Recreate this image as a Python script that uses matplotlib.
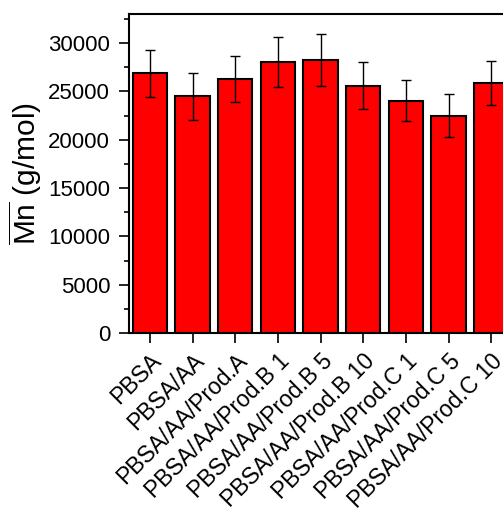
import matplotlib
matplotlib.use("Agg")
import matplotlib.pyplot as plt
from matplotlib.ticker import MultipleLocator
import numpy as np

samples = ["PBSA", "PBSA/AA", "PBSA/AA/Prod.A", "PBSA/AA/Prod.B 1",
           "PBSA/AA/Prod.B 5", "PBSA/AA/Prod.B 10", "PBSA/AA/Prod.C 1",
           "PBSA/AA/Prod.C 5", "PBSA/AA/Prod.C 10"]
mn_values = [26850, 24500, 26250, 28050, 28250, 25600, 24050, 22500, 25850]
mn_errors = [2400, 2420, 2380, 2580, 2690, 2420, 2150, 2190, 2280]

plt.rcParams['font.family'] = ['Liberation Sans', 'DejaVu Sans']
plt.rcParams['mathtext.fontset'] = 'custom'
plt.rcParams['mathtext.rm'] = 'Liberation Sans'
plt.rcParams['mathtext.it'] = 'Liberation Sans'

fig = plt.figure(figsize=(5.03, 5.08), dpi=100)
ax = fig.add_axes([0.2555, 0.3445, 0.7634, 0.6279])

x = np.arange(1, len(samples) + 1)
ax.bar(x, mn_values, width=0.8, color='#ff0000', edgecolor='black', linewidth=1.5, zorder=2)
ax.errorbar(x, mn_values, yerr=mn_errors, fmt='none', ecolor='black',
            elinewidth=1, capsize=3.6, capthick=1, zorder=3)

ax.set_xlim(0.5, 9.5)
ax.set_ylim(0, 33000)
ax.yaxis.set_major_locator(MultipleLocator(5000))
ax.yaxis.set_minor_locator(MultipleLocator(2500))
ax.set_xticks(x)
ax.set_xticklabels(samples, rotation=45, ha='right', rotation_mode='anchor', fontsize=16.5)

ax.tick_params(axis='y', which='major', direction='out', length=7.2, width=1.2,
               labelsize=16, pad=6, right=True)
ax.tick_params(axis='y', which='minor', direction='out', length=3.6, width=1.2, right=False)
ax.tick_params(axis='x', which='major', direction='out', length=7.2, width=1.2, pad=4.5)
# right-hand ticks point inwards (they poke in from the clipped spine)
for t in ax.yaxis.get_major_ticks():
    t.tick2line.set_marker(matplotlib.lines.TICKLEFT)
    t.tick2line.set_markersize(7.2)

for s in ax.spines.values():
    s.set_linewidth(1.5)

ax.set_ylabel(r'$\overline{\mathrm{Mn}}$ (g/mol)', fontsize=21.5, labelpad=3)

fig.savefig("out.png", dpi=100)
